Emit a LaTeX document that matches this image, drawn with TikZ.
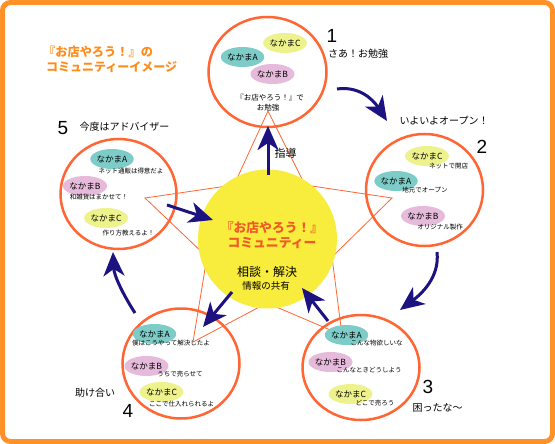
\documentclass[tikz,border=0pt]{standalone}
\usepackage{fontspec}
\setmainfont{Noto Sans CJK JP}
\newfontfamily\digitfont{Liberation Sans}
\usetikzlibrary{shapes.geometric,arrows.meta}
\definecolor{framec}{RGB}{255,145,40}
\definecolor{ringc}{RGB}{255,102,51}
\definecolor{navyc}{RGB}{28,18,128}
\definecolor{sunc}{RGB}{248,236,60}
\definecolor{tealc}{RGB}{126,204,200}
\definecolor{limec}{RGB}{238,242,140}
\definecolor{pinkc}{RGB}{230,186,218}
\definecolor{titlec}{RGB}{255,140,25}
\definecolor{centerc}{RGB}{240,90,40}
\tikzset{
  ringnode/.style={draw=ringc, line width=2.5pt, ellipse, inner sep=0pt},
  mate/.style={ellipse, inner sep=0pt, minimum width=36pt, minimum height=20pt, font=\fontsize{8.5}{9}\selectfont},
  ma/.style={mate, fill=tealc},
  mb/.style={mate, fill=pinkc},
  mc/.style={mate, fill=limec},
  note/.style={font=\fontsize{6.5}{7}\selectfont, inner sep=0pt},
  lab/.style={font=\fontsize{10}{11}\selectfont, inner sep=0pt},
  num/.style={font=\digitfont\fontsize{19}{20}\selectfont, inner sep=0pt},
  flow/.style={draw=navyc, line width=3pt, -{Stealth[length=24pt,width=21pt,inset=7pt]}},
  startline/.style={draw=ringc, line width=0.8pt, line join=miter},
}
\begin{document}
\begin{tikzpicture}[x=1pt,y=-1pt]
\useasboundingbox (0,0) rectangle (555,444);
\fill[white] (0,0) rectangle (555,444);
% frame
\draw[framec, line width=5pt, rounded corners=8pt] (2.5,2.5) rectangle (552.5,441.5);

% star
\draw[startline] (268,111) -- (305,185) -- (392,198) -- (332,257) -- (342,335)
  -- (267,303) -- (193,342) -- (207,257) -- (145,198) -- (234,185) -- cycle;

% center circle
\node[circle, fill=sunc, minimum size=139pt, inner sep=0pt] (core) at (267.5,239) {};
\node[font=\bfseries\fontsize{12.8}{14}\selectfont, text=centerc, inner sep=0pt] (ct1) at (272,228) {『お店やろう！』};
\node[font=\bfseries\fontsize{12.8}{14}\selectfont, text=centerc, inner sep=0pt] (ct2) at (272,243) {コミュニティー};
\node[font=\fontsize{12}{13}\selectfont, inner sep=0pt] (ct3) at (267,272) {相談・解決};
\node[font=\fontsize{9.5}{10}\selectfont, inner sep=0pt] (ct4) at (266,286) {情報の共有};

% rings
\node[ringnode, minimum width=118pt, minimum height=110pt] (c1) at (267.5,72) {};
\node[ringnode, minimum width=117pt, minimum height=112pt] (c2) at (424.5,190) {};
\node[ringnode, minimum width=116pt, minimum height=110pt] (c5) at (118.5,194) {};
\node[ringnode, minimum width=117pt, minimum height=110pt] (c4) at (181,363.5) {};
\node[ringnode, minimum width=117pt, minimum height=105pt] (c3) at (361,367.5) {};

% title
\node[font=\bfseries\fontsize{12.2}{13}\selectfont, text=titlec, inner sep=0pt, anchor=west] (tt1) at (43,52) {『お店やろう！』の};
\node[font=\bfseries\fontsize{12}{13}\selectfont, text=titlec, inner sep=0pt, anchor=west] (tt2) at (46,67.5) {コミュニティーイメージ};

% circle 1
\node[ma] (a1) at (242.5,57) {なかまA};
\node[mc] (k1) at (285,43) {なかまC};
\node[mb] (b1) at (272.5,74) {なかまB};
\node[font=\fontsize{7.5}{8}\selectfont, inner sep=0pt] (s1a) at (270,98) {『お店やろう！』で};
\node[font=\fontsize{7.5}{8}\selectfont, inner sep=0pt] (s1b) at (268,107.5) {お勉強};
\node[num] (n1) at (332,36) {1};
\node[lab] (l1) at (358,54) {さあ！お勉強};

% circle 2
\node[lab] (l2) at (444,121) {いよいよオープン！};
\node[num] (n2) at (482,147) {2};
\node[mc] (k2) at (427,156) {なかまC};
\node[note] (s2c) at (448.5,166) {ネットで開店};
\node[ma] (a2) at (396,181) {なかまA};
\node[note] (s2a) at (425,190) {地元でオープン};
\node[mb] (b2) at (423,216) {なかまB};
\node[note] (s2b) at (440,227) {オリジナル製作};

% circle 5
\node[num] (n5) at (63,128) {5};
\node[lab] (l5) at (124.5,127) {今度はアドバイザー};
\node[ma] (a5) at (112,159) {なかまA};
\node[note] (s5a) at (131,171) {ネット通販は得意だよ};
\node[mb] (b5) at (85,186) {なかまB};
\node[note] (s5b) at (99,197) {和雑貨はまかせて！};
\node[mc] (k5) at (106,218) {なかまC};
\node[note] (s5c) at (128.5,233) {作り方教えるよ！};

% circle 4
\node[ma] (a4) at (154.5,334) {なかまA};
\node[note] (s4a) at (171,343) {僕はこうやって解決したよ};
\node[mb] (b4) at (146.5,366) {なかまB};
\node[note] (s4b) at (180,374) {うちで売らせて};
\node[mc] (k4) at (161.5,392) {なかまC};
\node[note] (s4c) at (181.5,404) {ここで仕入れられるよ};
\node[lab] (l4) at (95,393) {助け合い};
\node[num] (n4) at (128,411) {4};

% circle 3
\node[ma] (a3) at (346.5,335) {なかまA};
\node[note] (s3a) at (376.5,343) {こんな物欲しいな};
\node[mb] (b3) at (330.5,362) {なかまB};
\node[note] (s3b) at (369,370) {こんなときどうしよう};
\node[mc] (k3) at (350.5,394) {なかまC};
\node[note] (s3c) at (375,403) {どこで売ろう};
\node[num] (n3) at (428,387) {3};
\node[lab] (l3) at (437.5,408) {困ったな～};

% guidance label
\node[font=\fontsize{11}{12}\selectfont, inner sep=0pt] (guide) at (285.5,153) {指導};

% arrow end points
\coordinate (p1s) at (337,89);   \coordinate (p1e) at (387,121);
\coordinate (p2s) at (437,252);  \coordinate (p2e) at (400,310);
\coordinate (p4s) at (135,313);  \coordinate (p4e) at (113,252);
\coordinate (q1s) at (268,175);  \coordinate (q1e) at (268,126);
\coordinate (q5s) at (167,205);  \coordinate (q5e) at (213,220);
\coordinate (q4s) at (232,292);  \coordinate (q4e) at (203,327);
\coordinate (q3s) at (328,321);  \coordinate (q3e) at (302,288);

\draw[flow] (p1s) .. controls (358,86) and (372,98) .. (p1e);
\draw[flow] (p2s) .. controls (440,278) and (420,295) .. (p2e);
\draw[flow] (p4s) .. controls (124,296) and (114,276) .. (p4e);
\draw[flow] (q1s) -- (q1e);
\draw[flow] (q5s) -- (q5e);
\draw[flow] (q4s) -- (q4e);
\draw[flow] (q3s) -- (q3e);
\end{tikzpicture}
\end{document}
